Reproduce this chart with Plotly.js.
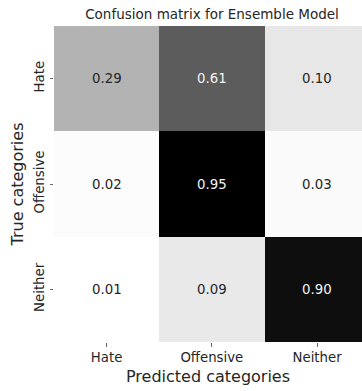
<!DOCTYPE html>
<html>
<head>
<meta charset="utf-8">
<script src="https://cdn.plot.ly/plotly-3.0.1.min.js"></script>
<style>html,body{margin:0;padding:0;background:#fff;}#chart{width:362px;height:391px;}</style>
</head>
<body>
<div id="chart"></div>
<script>
// Data
const predictedCategories = ["Hate", "Offensive", "Neither"];
const trueCategories = ["Hate", "Offensive", "Neither"];
const rowHate = [0.29, 0.61, 0.10];
const rowOffensive = [0.02, 0.95, 0.03];
const rowNeither = [0.01, 0.09, 0.90];
const chartTitle = "Confusion matrix for Ensemble Model";
const xAxisTitle = "Predicted categories";
const yAxisTitle = "True categories";

const z = [rowHate, rowOffensive, rowNeither];
let zmin = Infinity, zmax = -Infinity;
z.forEach(r => r.forEach(v => { zmin = Math.min(zmin, v); zmax = Math.max(zmax, v); }));

const FONT = "DejaVu Sans, sans-serif";

function textColorFor(v) {
  const t = (v - zmin) / (zmax - zmin);
  const g = 1 - t; // gray_r level 0..1
  const lin = g <= 0.04045 ? g / 12.92 : Math.pow((g + 0.055) / 1.055, 2.4);
  return lin > 0.408 ? "#262626" : "#f2f2f2";
}

const annotations = [];
z.forEach((row, i) => row.forEach((v, j) => {
  annotations.push({
    x: predictedCategories[j], y: trueCategories[i], xref: "x", yref: "y",
    text: v.toFixed(2), showarrow: false,
    font: {family: FONT, size: 13.3, color: textColorFor(v)}
  });
}));

const trace = {
  type: "heatmap",
  x: predictedCategories,
  y: trueCategories,
  z: z,
  zmin: zmin, zmax: zmax,
  colorscale: [[0, "#ffffff"], [1, "#000000"]],
  showscale: false,
  hoverinfo: "skip"
};

const layout = {
  width: 362, height: 391,
  margin: {l: 54, r: 0, t: 26, b: 49, pad: 0},
  paper_bgcolor: "#ffffff", plot_bgcolor: "#ffffff",
  font: {family: FONT, size: 13.3, color: "#262626"},
  title: {
    text: chartTitle, font: {family: FONT, size: 13.5, color: "#262626"},
    x: 212 / 362, xref: "container", xanchor: "center",
    y: 1 - 14 / 391, yref: "container", yanchor: "middle"
  },
  xaxis: {
    type: "category", range: [-0.5, 2.427], fixedrange: true,
    showgrid: false, zeroline: false, showline: false,
    ticks: "outside", ticklen: 3.5, tickwidth: 0.8, tickcolor: "#444",
    tickfont: {family: FONT, size: 13.3, color: "#262626"},
    title: {text: xAxisTitle, font: {family: FONT, size: 16, color: "#262626"}, standoff: 6}
  },
  yaxis: {
    type: "category", range: [2.5, -0.5], fixedrange: true,
    showgrid: false, zeroline: false, showline: false,
    ticks: "outside", ticklen: 3.5, tickwidth: 0.8, tickcolor: "#444",
    tickangle: -90,
    tickfont: {family: FONT, size: 13.3, color: "#262626"},
    title: {text: yAxisTitle, font: {family: FONT, size: 16, color: "#262626"}, standoff: 4}
  },
  annotations: annotations
};

Plotly.newPlot("chart", [trace], layout, {displayModeBar: false, staticPlot: true});
</script>
</body>
</html>
